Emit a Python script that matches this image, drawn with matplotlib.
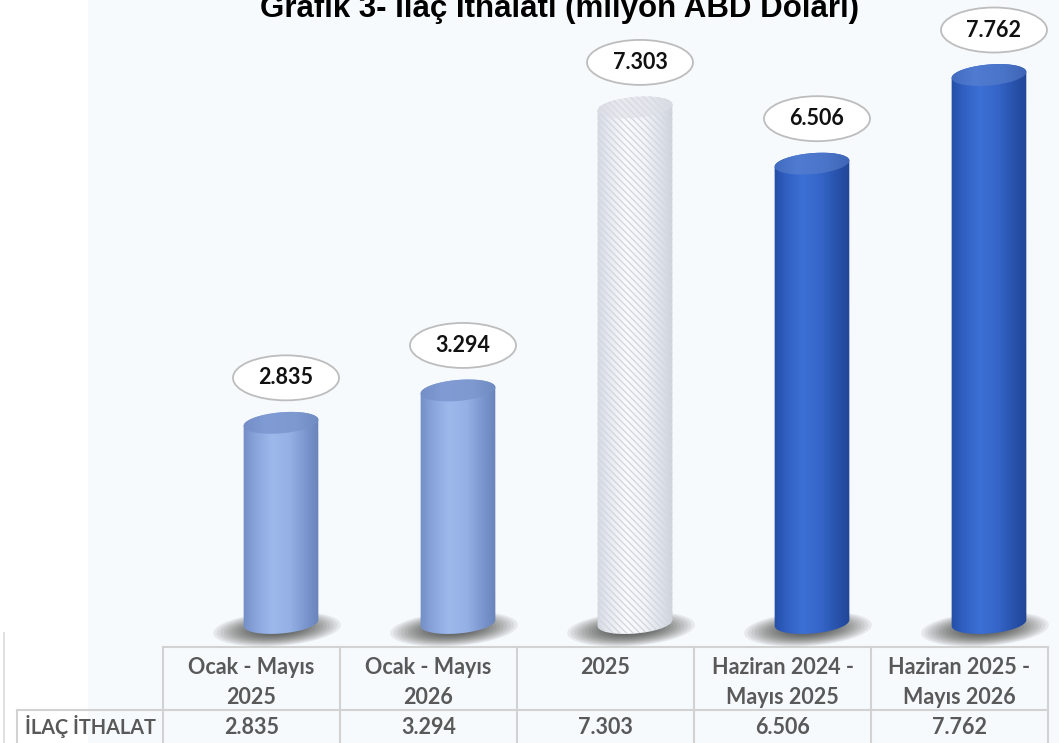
import numpy as np
import matplotlib
matplotlib.use('Agg')
import matplotlib.pyplot as plt
from matplotlib.path import Path
from matplotlib.patches import PathPatch, Rectangle, Ellipse
from matplotlib.colors import LinearSegmentedColormap

# ---------------- data ----------------
title = "Grafik 3- İlaç İthalatı (milyon ABD Doları)"
categories = ["Ocak - Mayıs\n2025", "Ocak - Mayıs\n2026", "2025",
              "Haziran 2024 -\nMayıs 2025", "Haziran 2025 -\nMayıs 2026"]
values = [2835, 3294, 7303, 6506, 7762]
row_label = "İLAÇ İTHALAT"
styles = ["light", "light", "hatch", "dark", "dark"]


def fmt(v):
    return f"{v:,}".replace(",", ".")


plt.rcParams['hatch.linewidth'] = 1.0

W, H = 1059, 743
fig = plt.figure(figsize=(W / 100, H / 100), dpi=100)
fig.patch.set_facecolor('white')

# background / table canvas in pixel coords
bg = fig.add_axes([0, 0, 1, 1], zorder=0)
bg.set_xlim(0, W)
bg.set_ylim(H, 0)
bg.axis('off')
bg.add_patch(Rectangle((88, 0), W - 88, H, color='#F7FAFD', zorder=0, lw=0))

# bar axes
X0, DX, BASE, PPU = 281, 177, 623, 0.0706
ax = fig.add_axes([0, 0, 1, 1], zorder=2)
ax.patch.set_alpha(0)
ax.axis('off')


def ell(xc, yc, a, b, tilt, t):
    th = np.deg2rad(tilt)
    ex = a * np.cos(t) * np.cos(th) - b * np.sin(t) * np.sin(th)
    ey = a * np.cos(t) * np.sin(th) + b * np.sin(t) * np.cos(th)
    return xc + ex / DX, yc + ey / PPU


body_stops = {
    "light": ['#6781B9', '#86A2D8', '#9DB9EC', '#94B0E4', '#7893CB', '#6079B0'],
    "dark": ['#1E4494', '#2F5EC0', '#3D70D4', '#3565C8', '#2750A8', '#1D408C'],
    "hatch": ['#C9CED8', '#E6E9EF', '#FAFBFD', '#F3F5F9', '#DDE1E8', '#C3C8D2'],
}
top_stops = {
    "light": ['#6F89C2', '#819CD4', '#7E98D0', '#6C86BE'],
    "dark": ['#3E66BA', '#4F7BD0', '#4A74C8', '#3A60B0'],
    "hatch": ['#D6D9E0', '#E8EAEF', '#E3E6EB', '#D3D7DE'],
}

a, b, tilt = 37.5, 10.5, 5
tb = np.linspace(np.pi, 2 * np.pi, 80)
tt = np.linspace(0, np.pi, 80)
tf = np.linspace(0, 2 * np.pi, 160)
grad = np.linspace(0, 1, 256)[None, :]

for i, (v, st) in enumerate(zip(values, styles)):
    # shadow (soft, layered)
    for k in range(16):
        f = 1 - k / 18
        sx, sy = ell(i - 4 / DX, -6 / PPU, 64 * f, 17 * f, 4, tf)
        ax.fill(sx, sy, color='#141414', alpha=0.07, lw=0, zorder=2)

    bx, by = ell(i, 0, a, b, tilt, tb)
    tx, ty = ell(i, v, a, b, tilt, tt)
    verts = np.vstack([np.column_stack([bx, by]), np.column_stack([tx, ty])])
    body = PathPatch(Path(verts), facecolor='none', edgecolor='none', transform=ax.transData)
    ax.add_patch(body)
    cm = LinearSegmentedColormap.from_list('b%d' % i, body_stops[st])
    im = ax.imshow(grad, cmap=cm, aspect='auto', interpolation='bicubic',
                   extent=[i - 45 / DX, i + 45 / DX, -30 / PPU, v + 30 / PPU], zorder=3)
    im.set_clip_path(body)

    ex, ey = ell(i, v, a, b, tilt, tf)
    top = PathPatch(Path(np.column_stack([ex, ey])), facecolor='none', edgecolor='none',
                    transform=ax.transData)
    ax.add_patch(top)
    cm2 = LinearSegmentedColormap.from_list('t%d' % i, top_stops[st])
    im2 = ax.imshow(grad, cmap=cm2, aspect='auto', interpolation='bicubic',
                    extent=[i - 45 / DX, i + 45 / DX, v - 20 / PPU, v + 20 / PPU], zorder=4)
    im2.set_clip_path(top)

    if st == "hatch":
        ax.add_patch(PathPatch(Path(verts), facecolor='none', edgecolor='#D3D7E0', lw=0,
                               hatch='\\\\\\\\\\', zorder=3.5))
        ax.add_patch(PathPatch(Path(np.column_stack([ex, ey])), facecolor='none',
                               edgecolor='#D8DBE3', lw=0, hatch='\\\\\\\\\\', zorder=4.5))

    # label bubble
    ax.add_patch(Ellipse((i + 5 / DX, v + 45 / PPU), 106 / DX, 45 / PPU, facecolor='white',
                         edgecolor='#BDBDBD', lw=1.3, zorder=6))
    ax.text(i + 5 / DX, v + 45 / PPU, fmt(v), ha='center', va='center', fontsize=15.5,
            fontweight='bold', family='Lato', color='#111111', zorder=7)

ax.set_xlim(-X0 / DX, (W - X0) / DX)
ax.set_ylim(-(H - BASE) / PPU, BASE / PPU)

# title (cut at the top like the reference)
bg.text(559, 17, title, ha='center', va='baseline', fontsize=22.5, fontweight='bold',
        family='Liberation Sans', color='black')

# table
cols = [163, 340, 517, 694, 871, 1048]
lc = '#D2D2D2'
bg.plot([163, 1048], [647, 647], color=lc, lw=1.5)
bg.plot([17, 1048], [710, 710], color=lc, lw=1.5)
for xc in cols:
    bg.plot([xc, xc], [647, H], color=lc, lw=1.5)
bg.plot([17, 17], [710, H], color=lc, lw=1.5)
bg.plot([4, 4], [633, H], color='#DADADA', lw=1.2)

tcol = '#595959'
for j, cat in enumerate(categories):
    cx = (cols[j] + cols[j + 1]) / 2
    lines = cat.split("\n")
    for k, ln in enumerate(lines):
        bg.text(cx, 668 + 29 * k, ln, ha='center', va='center', fontsize=15.5,
                fontweight='bold', family='Lato', color=tcol)
    bg.text(cx, 727, fmt(values[j]), ha='center', va='center', fontsize=15.5,
            fontweight='bold', family='Lato', color=tcol)
bg.text(90, 727, row_label, ha='center', va='center', fontsize=14.3, fontweight='bold',
        family='Lato', color=tcol)

fig.savefig('out.png', dpi=100)
